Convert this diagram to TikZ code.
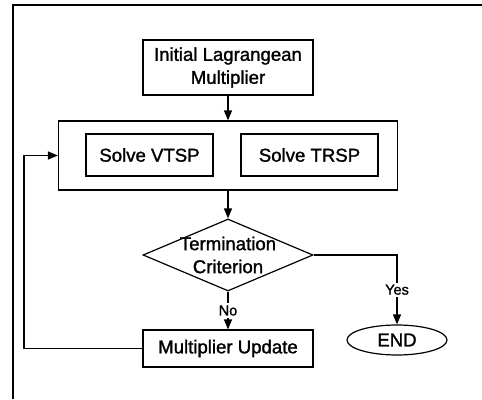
\documentclass[tikz,border=0pt]{standalone}
\usepackage{fontspec}
\setmainfont{Liberation Sans}[BoldFont=Liberation Sans,BoldFeatures={FakeBold=1.4}]
\usetikzlibrary{shapes.geometric,arrows.meta}

\begin{document}
\begin{tikzpicture}[x=1pt,y=-1pt]
			\tikzstyle{every node}=[font=\fontsize{18.6}{23}\selectfont\bfseries]
			\tikzstyle{block}=[rectangle,draw,line width=1.2pt,align=center,inner sep=0pt]
			\tikzstyle{flow}=[line width=1.2pt,-{Triangle[length=10pt,width=8pt]}]
			\tikzstyle{answer}=[fill=white,inner sep=2pt,font=\fontsize{14.5}{17}\selectfont\bfseries]
			
			\useasboundingbox (0,0) rectangle (482,399);
			\draw[line width=2pt] (13,399) -- (13,5) -- (482,5);
			
			\node[block,minimum width=170pt,minimum height=55pt] (init) at (228,67.5) {Initial Lagrangean\\Multiplier};
			\node[block,minimum width=339pt,minimum height=69pt] (solve) at (228,155.5) {};
			\node[block,minimum width=127pt,minimum height=42pt] (vtsp) at (149.5,155) {Solve VTSP};
			\node[block,minimum width=137pt,minimum height=42pt] (trsp) at (309.5,155) {Solve TRSP};
			\node[diamond,draw,line width=1.2pt,minimum width=170pt,minimum height=72pt,inner sep=0pt] (term) at (228,255) {};
			\node[align=center] (termtext) at (term) {Termination\\Criterion};
			\node[block,minimum width=170pt,minimum height=37pt] (update) at (228,348.5) {Multiplier Update};
			\node[ellipse,draw,line width=1.2pt,minimum width=100pt,minimum height=30pt,inner sep=0pt] (end) at (397,340) {END};
			\coordinate (back) at (24,155.5);
			
			\draw[flow] (init) -- (solve);
			\draw[flow] (solve) -- (term);
			\draw[flow] (term) -- node[answer] {No} (update);
			\draw[flow] (term.east) -| node[answer,pos=0.75] {Yes} (end.north);
			\draw[flow] (update.west) -| (back) -- (solve.west);
			
\end{tikzpicture}
\end{document}
